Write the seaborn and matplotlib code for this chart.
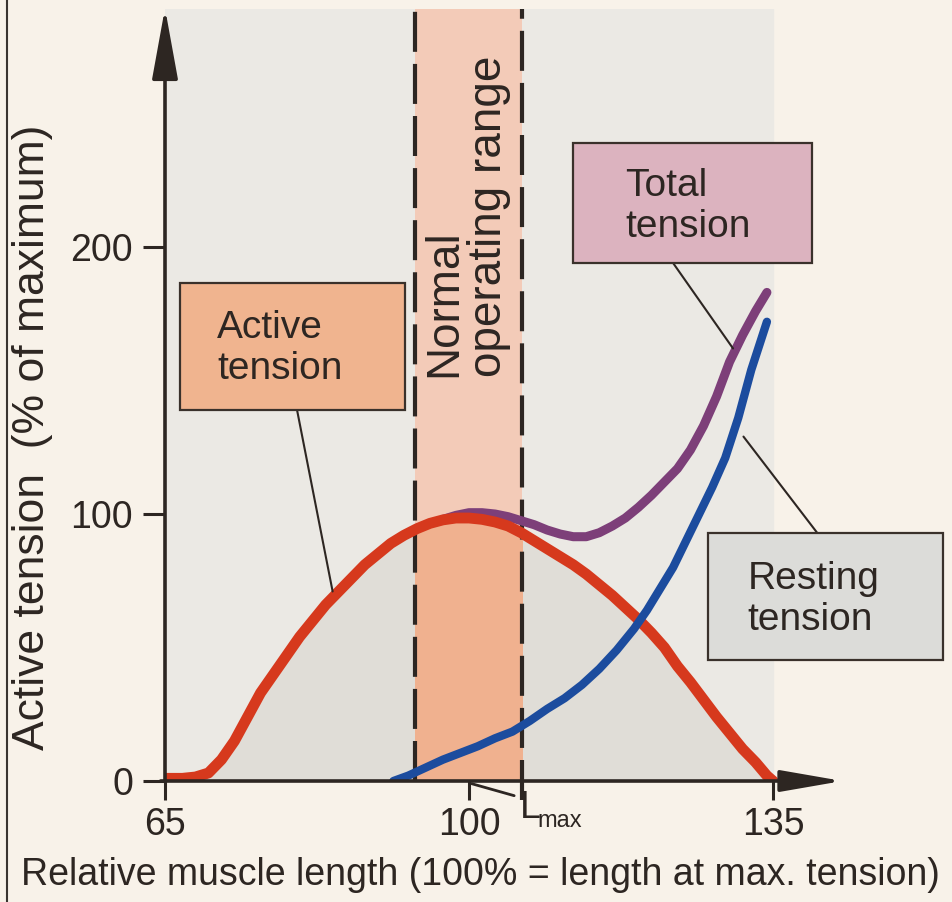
import matplotlib
matplotlib.use('Agg')
import matplotlib.pyplot as plt
import seaborn as sns
from matplotlib.patches import Rectangle
from matplotlib.lines import Line2D

# values
active_x = [65, 67, 68.5, 70, 71.5, 73, 74.5, 76, 77.5, 79, 80.5, 82, 83.5, 85, 86.5, 88, 89.5,
            91, 92.5, 94, 95.5, 97, 98.5, 100, 101.5, 103, 104.5, 106, 107.5, 109, 110.5, 112,
            113.5, 115, 116.5, 118, 119.5, 121, 122.5, 124, 125.5, 127, 128.5, 130, 131.5, 133,
            134.3, 135]
active_y = [1, 1, 1.5, 3, 8, 15, 24, 33, 40, 47, 54, 60, 66, 71, 76, 81, 85,
            89, 92, 94.5, 96.5, 97.8, 98.5, 98.5, 98, 97, 95.5, 93, 90, 87, 84, 81,
            77.5, 73.5, 69.5, 65, 60.5, 55.5, 50, 43, 37, 30.5, 24, 18, 12, 7,
            2, 0]

resting_x = [91.3, 93, 95, 97, 99, 101, 103, 105, 107, 109, 111, 113, 115, 117, 119, 120.5,
             122, 123.5, 125, 126.5, 128, 129.5, 131, 132.5, 134.3]
resting_y = [0, 2, 5, 8, 10.5, 13, 16, 18.5, 22.5, 27, 31, 36, 42, 49, 57, 64,
             72, 80, 90, 100, 110, 121, 136, 154, 172]

total_x = [97, 98.5, 100, 101.5, 103, 104.5, 106, 107.5, 109, 110.5, 112, 113.5, 115, 116.5,
           118, 119.5, 121, 122.5, 124, 125.5, 127, 128.5, 130, 131.5, 133, 134.3]
total_y = [98, 99.5, 100.5, 100.5, 100, 99, 97.5, 96, 94, 92.5, 91.5, 91.5, 93, 95.5,
           98.5, 102.5, 107, 112, 117, 124, 133, 144, 157, 167, 176, 183]

x_ticks = [65, 100, 135]
y_ticks = [0, 100, 200]
normal_range = [93.8, 106.1]
l_max = 106.1

dark = '#2d2622'

sns.set_style('white')
plt.rcParams['font.family'] = ['Liberation Sans', 'DejaVu Sans']

fig = plt.figure(figsize=(9.53, 9.02), dpi=100)
fig.patch.set_facecolor('#f8f2e9')
ax = fig.add_axes([165 / 953, 121 / 902, 668.8 / 953, 771.6 / 902])
ax.set_xlim(65, 142)
ax.set_ylim(0, 289)
ax.set_facecolor('none')
for s in ax.spines.values():
    s.set_visible(False)

# background panel and shading
ax.axvspan(65, 135, color='#ebe9e4', zorder=0)
ax.fill_between(active_x, active_y, color='#e0ddd7', zorder=0.5, lw=0)
ax.axvspan(normal_range[0], normal_range[1], color='#f3cbb8', zorder=1, lw=0)
under = ax.fill_between(active_x, active_y, color='#f0b18f', zorder=1.1, lw=0)
under.set_clip_path(Rectangle((normal_range[0], 0), normal_range[1] - normal_range[0], 289,
                              transform=ax.transData))

# dashed limits of the normal range
dash = (0, (9.6, 2.9))
ax.plot([normal_range[0]] * 2, [0, 289], color=dark, lw=3, ls=dash, zorder=2)
ax.plot([l_max] * 2, [-7, 289], color=dark, lw=3, ls=dash, zorder=2, clip_on=False)

# curves
sns.lineplot(x=total_x, y=total_y, ax=ax, color='#7d3f79', lw=6.5, zorder=3)
sns.lineplot(x=active_x, y=active_y, ax=ax, color='#d6391d', lw=7.8, zorder=4)
sns.lineplot(x=resting_x, y=resting_y, ax=ax, color='#1c4c9e', lw=6, zorder=5)

# axes with arrows
ax.annotate('', xy=(65, 289.5), xytext=(65, 0), annotation_clip=False,
            arrowprops=dict(arrowstyle='-|>,head_length=2.2,head_width=0.4', mutation_scale=20,
                            lw=2.6, color=dark, shrinkA=0, shrinkB=0), zorder=6)
ax.annotate('', xy=(143, 0), xytext=(64.5, 0), annotation_clip=False,
            arrowprops=dict(arrowstyle='-|>,head_length=1.9,head_width=0.33', mutation_scale=20,
                            lw=2.6, color=dark, shrinkA=0, shrinkB=0), zorder=6)

ax.set_xticks(x_ticks)
ax.set_yticks(y_ticks)
ax.tick_params(axis='x', bottom=True, direction='out', length=14, width=2.2, pad=5,
               labelsize=27, colors=dark)
ax.tick_params(axis='y', left=True, direction='out', length=16, width=2.2, pad=7,
               labelsize=27, colors=dark)
ax.set_xlabel('')
ax.set_ylabel('')

# label boxes
boxes = [
    ((66.73, 138.95), 25.9, 47.55, '#f0b48f', (71.0, 162.0), 'Active\ntension'),
    ((111.97, 194.0), 27.52, 44.9, '#dcb3bf', (117.96, 215.2), 'Total\ntension'),
    ((127.51, 45.3), 27.06, 47.6, '#dcdcd9', (132.1, 68.0), 'Resting\ntension'),
]
for (x0, y0), w, h, fc, (tx, ty), label in boxes:
    ax.add_patch(Rectangle((x0, y0), w, h, facecolor=fc, edgecolor='#3a312b', lw=1.6,
                           zorder=7, clip_on=False))
    ax.text(tx, ty, label, fontsize=28, color=dark, ha='left', va='center',
            linespacing=1.15, zorder=8, clip_on=False)

# leader lines
ax.plot([80.2, 84.3], [139, 71], color=dark, lw=1.5, zorder=6)
ax.plot([123.5, 130.4], [194, 162], color=dark, lw=1.5, zorder=6)
ax.plot([140.1, 131.6], [92.9, 129], color=dark, lw=1.5, zorder=6, clip_on=False)

ax.text(99.75, 151.3, 'Normal\noperating range', rotation=90, ha='center', va='bottom',
        multialignment='left', fontsize=33, color=dark, linespacing=1.02, zorder=6)

# L max marker below the axis
ax.plot([100.3, 105.2], [-1, -5.5], color=dark, lw=2, clip_on=False)
ax.text(105.85, -3.4, 'L', fontsize=27, color=dark, ha='left', va='top', clip_on=False)
ax.text(107.9, -17.3, 'max', fontsize=17, color=dark, ha='left', va='baseline', clip_on=False)

fig.text(33 / 953, 1 - 437 / 902, 'Active tension  (% of maximum)', rotation=90,
         fontsize=32, color=dark, ha='center', va='center')
fig.text(480 / 953, 17 / 902, 'Relative muscle length (100% = length at max. tension)',
         fontsize=27, color=dark, ha='center', va='baseline')

fig.add_artist(Line2D([7 / 953, 7 / 953], [0, 1], color='#3a3430', lw=1.5))

fig.savefig('out.png', dpi=100, facecolor=fig.get_facecolor())
